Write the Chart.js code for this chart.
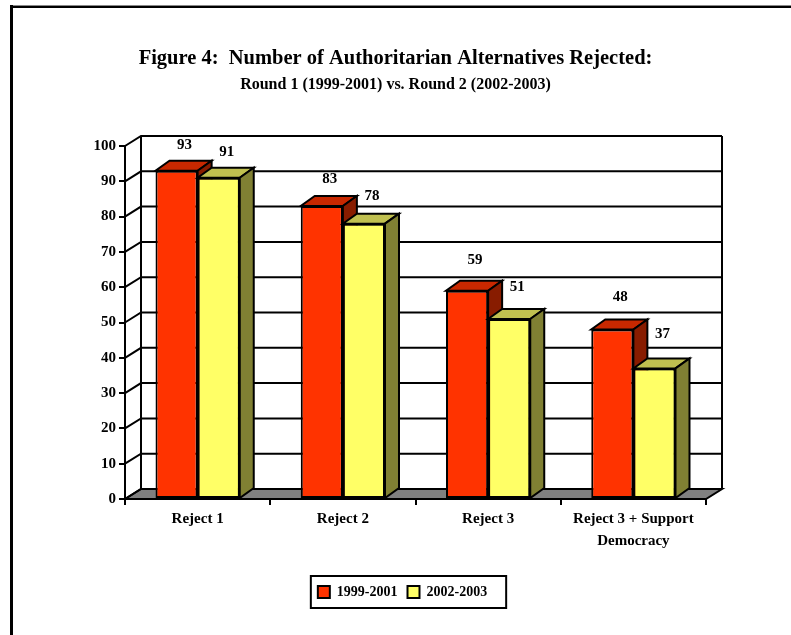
<!DOCTYPE html>
<html>
<head>
<meta charset="utf-8">
<script src="https://cdn.jsdelivr.net/npm/chart.js@4.4.0/dist/chart.umd.min.js"></script>
<style>
  html, body { margin: 0; padding: 0; background: #fff; }
  body { width: 791px; height: 635px; position: relative; overflow: hidden; }
  #frameTop { position: absolute; left: 10px; top: 5px; width: 781px; height: 0; border-top: 1px solid #888; border-bottom: 2px solid #000; }
  #frameLeft { position: absolute; left: 10px; top: 5px; width: 3px; height: 630px; background: #000; }
  canvas { position: absolute; left: 0; top: 0; }
</style>
</head>
<body>
<div id="frameTop"></div>
<div id="frameLeft"></div>
<canvas id="chart" width="791" height="635"></canvas>
<script>
// data
var categories = ["Reject 1", "Reject 2", "Reject 3", ["Reject 3 + Support", "Democracy"]];
var round1 = [93, 83, 59, 48];
var round2 = [91, 78, 51, 37];
var seriesNames = ["1999-2001", "2002-2003"];
var yMin = 0, yMax = 100, yStep = 10;

// 3d look
var wallDx = 16, wallDy = -10;
var barDx = 14, barDy = -10;
var frontColors = ["#FF3300", "#FFFF66"];
var topColors = ["#C82800", "#C0C050"];
var sideColors = ["#881C00", "#808033"];

Chart.defaults.font.family = "'Liberation Serif', 'Times New Roman', serif";
Chart.defaults.font.weight = "bold";
Chart.defaults.color = "#000";

function poly(c, pts, fill) {
  c.beginPath();
  c.moveTo(pts[0][0], pts[0][1]);
  for (var i = 1; i < pts.length; i++) c.lineTo(pts[i][0], pts[i][1]);
  c.closePath();
  if (fill) { c.fillStyle = fill; c.fill(); }
  c.stroke();
}

function drawTopSide(c, bar, i) {
  var p = bar.getProps(["x", "y", "base", "width"], true);
  var l = p.x - p.width / 2, r = p.x + p.width / 2, t = p.y, b = p.base;
  poly(c, [[l, t], [r, t], [r + barDx, t + barDy], [l + barDx, t + barDy]], topColors[i]);
  poly(c, [[r, t], [r + barDx, t + barDy], [r + barDx, b + barDy], [r, b]], sideColors[i]);
}

var box3d = {
  id: "box3d",
  afterLayout: function(chart) {
    // excel legend sits a bit right of centre
    chart.legend.left += 7;
    chart.legend.right += 7;
  },
  beforeDatasetsDraw: function(chart) {
    var c = chart.ctx, a = chart.chartArea, ys = chart.scales.y;
    c.save();
    c.lineWidth = 2;
    c.strokeStyle = "#000";
    // floor
    poly(c, [[a.left, a.bottom], [a.right, a.bottom], [a.right + wallDx, a.bottom + wallDy], [a.left + wallDx, a.bottom + wallDy]], "#808080");
    // side wall + back wall grid
    ys.ticks.forEach(function(t) {
      var py = ys.getPixelForValue(t.value);
      c.beginPath();
      c.moveTo(a.left, py);
      c.lineTo(a.left + wallDx, py + wallDy);
      c.lineTo(a.right + wallDx, py + wallDy);
      c.stroke();
    });
    c.beginPath();
    c.moveTo(a.left + wallDx, a.top + wallDy);
    c.lineTo(a.left + wallDx, a.bottom + wallDy);
    c.moveTo(a.right + wallDx, a.top + wallDy);
    c.lineTo(a.right + wallDx, a.bottom + wallDy);
    c.stroke();
    c.restore();
  },
  afterDatasetsDraw: function(chart) {
    var c = chart.ctx;
    var m0 = chart.getDatasetMeta(0), m1 = chart.getDatasetMeta(1);
    c.save();
    c.lineWidth = 2;
    c.strokeStyle = "#000";
    for (var k = 0; k < m0.data.length; k++) {
      drawTopSide(c, m0.data[k], 0);
      m1.data[k].draw(c);
      c.lineWidth = 2;
      c.strokeStyle = "#000";
      drawTopSide(c, m1.data[k], 1);
    }
    // value labels, excel floats them a little higher on tall bars
    c.font = "bold 15px 'Liberation Serif', serif";
    c.fillStyle = "#000";
    c.textAlign = "center";
    c.textBaseline = "middle";
    [m0, m1].forEach(function(m, i) {
      var vals = i === 0 ? round1 : round2;
      m.data.forEach(function(bar, k) {
        var off = 40 - 0.16 * vals[k];
        c.fillText(String(vals[k]), bar.x + 8, bar.y - off);
      });
    });
    c.restore();
  },
  afterDraw: function(chart) {
    var lg = chart.legend, c = chart.ctx;
    var pad = lg.options.labels.padding;
    var w = lg.lineWidths[0];
    var start = (lg.left + pad + lg.right - w) / 2;
    var end = start + w - pad;
    var cy = lg.top + pad + 7;
    c.save();
    c.lineWidth = 2;
    c.strokeStyle = "#000";
    c.strokeRect(start - 7, cy - 16, end - start + 26, 32);
    c.restore();
  }
};

var ctx = document.getElementById("chart").getContext("2d");
var chart = new Chart(ctx, {
  type: "bar",
  data: {
    labels: categories,
    datasets: [{
      label: seriesNames[0],
      data: round1,
      backgroundColor: frontColors[0],
      borderColor: "#000",
      borderWidth: 2,
      borderSkipped: false
    }, {
      label: seriesNames[1],
      data: round2,
      backgroundColor: frontColors[1],
      borderColor: "#000",
      borderWidth: 2,
      borderSkipped: false
    }]
  },
  options: {
    responsive: false,
    animation: false,
    events: [],
    layout: { padding: { top: 40, left: 85, right: 85, bottom: 26 } },
    datasets: { bar: { categoryPercentage: 0.58, barPercentage: 1.0 } },
    scales: {
      x: {
        grid: { offset: true, drawOnChartArea: false, tickLength: 6, color: "#000", lineWidth: 2 },
        border: { display: true, color: "#000", width: 2 },
        ticks: { padding: 3, font: { size: 15, lineHeight: 1.45 } },
        afterFit: function(s) { s.height = 76; }
      },
      y: {
        min: yMin,
        max: yMax,
        ticks: { stepSize: yStep, padding: 3, font: { size: 15 } },
        grid: { drawOnChartArea: false, tickLength: 6, color: "#000", lineWidth: 2 },
        border: { display: true, color: "#000", width: 2 },
        afterFit: function(s) { s.width = 40; }
      }
    },
    plugins: {
      title: {
        display: true,
        text: "Figure 4:  Number of Authoritarian Alternatives Rejected:",
        font: { size: 20.5, lineHeight: 1.2 },
        padding: { top: 6.7, bottom: 4 }
      },
      subtitle: {
        display: true,
        text: "Round 1 (1999-2001) vs. Round 2 (2002-2003)",
        font: { size: 16, weight: "bold", lineHeight: 1.2 },
        padding: { top: 0, bottom: 51.5 }
      },
      legend: {
        position: "bottom",
        labels: {
          boxWidth: 12,
          boxHeight: 12,
          padding: 10,
          font: { size: 14 },
          sort: function(a, b) { return a.datasetIndex - b.datasetIndex; }
        }
      },
      tooltip: { enabled: false }
    }
  },
  plugins: [box3d]
});
</script>
</body>
</html>
